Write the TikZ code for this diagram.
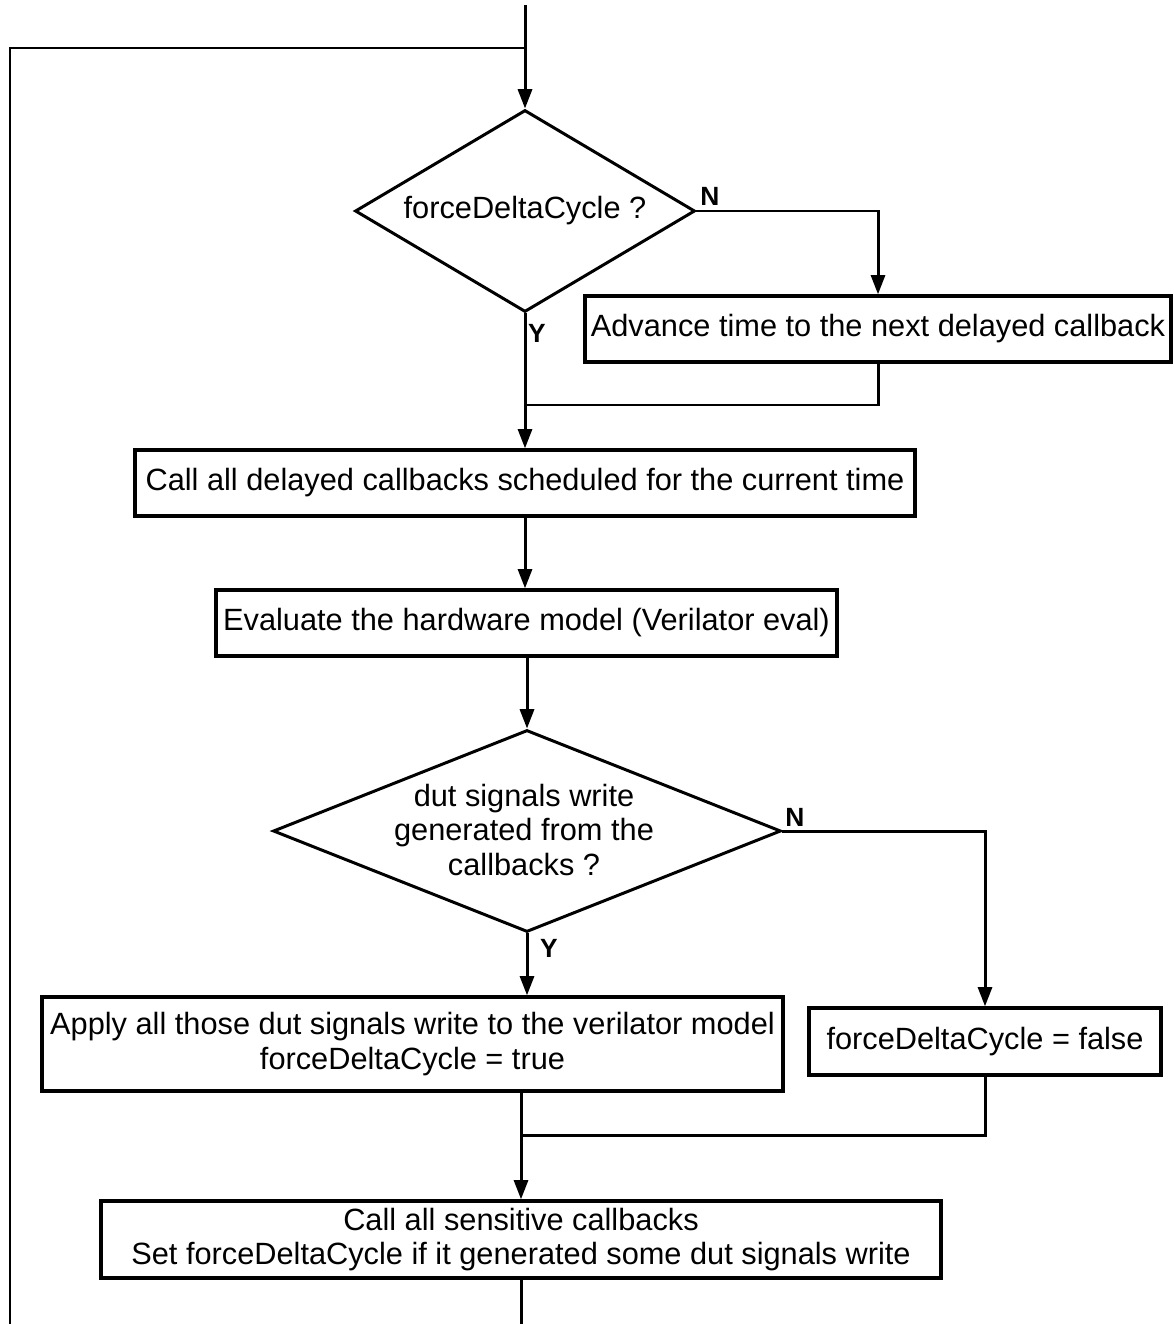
\documentclass[tikz,border=0pt]{standalone}
\usepackage{fontspec}
\setmainfont{Liberation Sans}
\usetikzlibrary{shapes.geometric,arrows.meta}
\begin{document}
\begin{tikzpicture}[x=0.02cm,y=-0.02cm,
  txt/.style={font=\fontsize{17.5}{19.5}\selectfont},
  stepbox/.style={draw,line width=1.9pt,inner sep=0pt,align=center,txt},
  decision/.style={draw,diamond,line width=1.7pt,inner sep=0pt},
  conn/.style={line width=1.7pt},
  arr/.style={conn,-{Triangle[length=11pt,width=8pt]}},
  yn/.style={font=\fontsize{15}{15}\selectfont\bfseries,inner sep=0pt}]
\useasboundingbox (0,0) rectangle (1173,1324);
% decisions
\node[decision,minimum width=6.8cm,minimum height=4.04cm] (d1) at (525,211) {};
\node[txt] (d1t) at (525,211) {forceDeltaCycle ?};
\node[decision,minimum width=10.16cm,minimum height=4.04cm] (d2) at (527,831) {};
\node[txt,align=center] (d2t) at (524,830) {dut signals write\\generated from the\\callbacks ?};
% boxes
\node[stepbox,minimum width=11.72cm,minimum height=1.32cm] (adv) at (878,329) {Advance time to the next delayed callback};
\node[stepbox,minimum width=15.6cm,minimum height=1.32cm] (calld) at (525,483) {Call all delayed callbacks scheduled for the current time};
\node[stepbox,minimum width=12.42cm,minimum height=1.32cm] (eval) at (526.5,623) {Evaluate the hardware model (Verilator eval)};
\node[stepbox,minimum width=14.82cm,minimum height=1.88cm] (apply) at (412.5,1044) {Apply all those dut signals write to the verilator model\\forceDeltaCycle = true};
\node[stepbox,minimum width=7.04cm,minimum height=1.34cm] (fdcf) at (985,1041.5) {forceDeltaCycle = false};
\node[stepbox,minimum width=16.8cm,minimum height=1.54cm] (sens) at (521,1239.5) {Call all sensitive callbacks\\Set forceDeltaCycle if it generated some dut signals write};
% labels
\node[yn] (n1) at (710,196) {N};
\node[yn] (y1) at (537,333) {Y};
\node[yn] (n2) at (795,817) {N};
\node[yn] (y2) at (549,948) {Y};
% coordinates
\coordinate (top) at (525,5);
\coordinate (loopj) at (525,48);
\coordinate (loopc) at (10,48);
\coordinate (loopb) at (10,1324);
\coordinate (bot) at (521,1324);
\coordinate (j1) at (525,405);
\coordinate (j2) at (521,1135);
% connectors
\draw[arr] (top) -- (d1.north);
\draw[conn] (loopb) -- (loopc) -- (loopj);
\draw[arr] (d1.east) -| (adv.north);
\draw[arr] (d1.south) -- (calld.north);
\draw[conn] (adv.south) |- (j1);
\draw[arr] (calld.south) -- (eval.north -| calld.south);
\draw[arr] (eval.south -| d2.north) -- (d2.north);
\draw[arr] (d2.east) -| (fdcf.north);
\draw[arr] (d2.south) -- (d2.south |- apply.north);
\draw[conn] (apply.south -| j2) -- (j2);
\draw[arr] (j2) -- (sens.north);
\draw[conn] (fdcf.south) |- (j2);
\draw[conn] (sens.south) -- (bot);
\end{tikzpicture}
\end{document}
